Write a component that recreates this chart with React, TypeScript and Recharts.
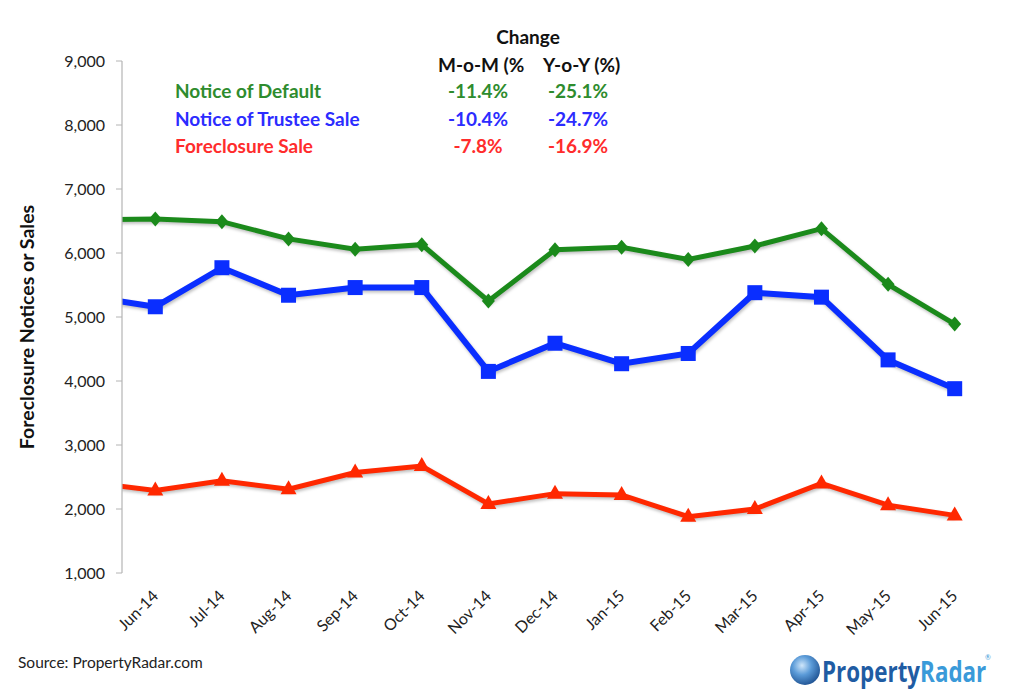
import React from "react";
import { LineChart, Line, XAxis, YAxis } from "recharts";

const months = ["May-14", "Jun-14", "Jul-14", "Aug-14", "Sep-14", "Oct-14", "Nov-14", "Dec-14", "Jan-15", "Feb-15", "Mar-15", "Apr-15", "May-15", "Jun-15"];
const noticeOfDefault = [6520, 6530, 6490, 6220, 6060, 6130, 5250, 6050, 6090, 5900, 6110, 6380, 5510, 4890];
const noticeOfTrusteeSale = [5320, 5160, 5770, 5340, 5460, 5460, 4150, 4590, 4270, 4430, 5380, 5310, 4330, 3880];
const foreclosureSale = [2420, 2290, 2440, 2310, 2570, 2670, 2080, 2240, 2220, 1880, 2000, 2400, 2060, 1900];
const yTicks = [1000, 2000, 3000, 4000, 5000, 6000, 7000, 8000, 9000];
const labelTicks = [1, 2, 3, 4, 5, 6, 7, 8, 9, 10, 11, 12, 13];
const markTicks = [0.5, 1.5, 2.5, 3.5, 4.5, 5.5, 6.5, 7.5, 8.5, 9.5, 10.5, 11.5, 12.5, 13.5];

const seriesNames = ["Notice of Default", "Notice of Trustee Sale", "Foreclosure Sale"];
const momChange = ["-11.4%", "-10.4%", "-7.8%"];
const yoyChange = ["-25.1%", "-24.7%", "-16.9%"];

const GREEN = "#1b8a1b";
const BLUE = "#0a2eff";
const RED = "#ff2800";
const textColors = ["#2e8c2e", "#2c2cff", "#ff2c2c"];

const data = months.map((m, i) => ({
  idx: i,
  month: m,
  nod: noticeOfDefault[i],
  nts: noticeOfTrusteeSale[i],
  fs: foreclosureSale[i],
}));

const FONT = "Lato, 'Open Sans', sans-serif";

const Diamond = (props: any) => {
  const { cx, cy, index } = props;
  if (index === 0 || cx == null) return <g key={`d${index}`} />;
  return <path key={`d${index}`} d={`M${cx},${cy - 7.5} L${cx + 6.5},${cy} L${cx},${cy + 7.5} L${cx - 6.5},${cy} Z`} fill={GREEN} />;
};
const Square = (props: any) => {
  const { cx, cy, index } = props;
  if (index === 0 || cx == null) return <g key={`s${index}`} />;
  return <rect key={`s${index}`} x={cx - 7.5} y={cy - 7.5} width={15} height={15} fill={BLUE} />;
};
const Triangle = (props: any) => {
  const { cx, cy, index } = props;
  if (index === 0 || cx == null) return <g key={`t${index}`} />;
  return <path key={`t${index}`} d={`M${cx},${cy - 9} L${cx + 8},${cy + 5} L${cx - 8},${cy + 5} Z`} fill={RED} />;
};

const XLabel = (props: any) => {
  const { x, y, payload } = props;
  const label = months[payload.value] ?? "";
  const tx = x + 4;
  const ty = y + 24;
  return (
    <text x={tx} y={ty} textAnchor="end" fontSize={16} fill="#222" fontFamily={FONT} transform={`rotate(-45, ${tx}, ${ty})`}>
      {label}
    </text>
  );
};

export default function App() {
  return (
    <div style={{ position: "absolute", left: 0, top: 0, width: 1024, height: 696, background: "#fff", fontFamily: FONT }}>
      <style>{`.recharts-line-curve { filter: drop-shadow(1px 2px 1.5px rgba(0,0,0,0.25)); }`}</style>
      <LineChart width={1024} height={696} data={data} margin={{ top: 61, right: 36, left: 0, bottom: 0 }}>
        <XAxis
          xAxisId="marks"
          dataKey="idx"
          type="number"
          domain={[0.5, 13.5]}
          allowDataOverflow
          ticks={markTicks}
          tick={false}
          height={0}
          axisLine={{ stroke: "#b4b4b4", strokeWidth: 1.2 }}
          tickLine={{ stroke: "#b4b4b4" }}
          tickSize={6}
        />
        <XAxis
          xAxisId="main"
          dataKey="idx"
          type="number"
          domain={[0.5, 13.5]}
          allowDataOverflow
          ticks={labelTicks}
          interval={0}
          tick={<XLabel />}
          height={123}
          axisLine={false}
          tickLine={false}
          tickSize={0}
          tickMargin={0}
        />
        <YAxis
          type="number"
          domain={[1000, 9000]}
          ticks={yTicks}
          interval={0}
          width={122}
          axisLine={{ stroke: "#b4b4b4", strokeWidth: 1.2 }}
          tickLine={{ stroke: "#b4b4b4" }}
          tickSize={6}
          tickMargin={11}
          tick={{ fontSize: 16, fill: "#222", fontFamily: FONT }}
          tickFormatter={(v: number) => v.toLocaleString("en-US")}
        />
        <Line xAxisId="main" type="linear" dataKey="fs" stroke={RED} strokeWidth={5} dot={<Triangle />} activeDot={false} isAnimationActive={false} />
        <Line xAxisId="main" type="linear" dataKey="nts" stroke={BLUE} strokeWidth={6} dot={<Square />} activeDot={false} isAnimationActive={false} />
        <Line xAxisId="main" type="linear" dataKey="nod" stroke={GREEN} strokeWidth={5} dot={<Diamond />} activeDot={false} isAnimationActive={false} />
      </LineChart>
      <svg width={1024} height={696} style={{ position: "absolute", left: 0, top: 0, pointerEvents: "none" }}>
        <text x={26} y={327} textAnchor="middle" fontSize={19.5} fontWeight="bold" fill="#111" fontFamily={FONT} transform="rotate(-90, 26, 327)" dominantBaseline="central">
          Foreclosure Notices or Sales
        </text>
        <text x={528} y={44} textAnchor="middle" fontSize={19} fontWeight="bold" fill="#111" fontFamily={FONT}>Change</text>
        <text x={438} y={72} fontSize={19} fontWeight="bold" fill="#111" fontFamily={FONT}>M-o-M (%</text>
        <text x={543} y={72} fontSize={19} fontWeight="bold" fill="#111" fontFamily={FONT}>Y-o-Y (%)</text>
        {seriesNames.map((n, i) => (
          <g key={n}>
            <text x={175} y={98 + i * 27.5} fontSize={19} fontWeight="bold" fill={textColors[i]} fontFamily={FONT}>{n}</text>
            <text x={478} y={98 + i * 27.5} textAnchor="middle" fontSize={19} fontWeight="bold" fill={textColors[i]} fontFamily={FONT}>{momChange[i]}</text>
            <text x={578} y={98 + i * 27.5} textAnchor="middle" fontSize={19} fontWeight="bold" fill={textColors[i]} fontFamily={FONT}>{yoyChange[i]}</text>
          </g>
        ))}
        <text x={18} y={668} fontSize={15.5} fill="#222" fontFamily={FONT}>Source: PropertyRadar.com</text>
        <defs>
          <radialGradient id="globe" cx="40%" cy="35%" r="70%">
            <stop offset="0%" stopColor="#cfe6fa" />
            <stop offset="45%" stopColor="#5b9bd8" />
            <stop offset="100%" stopColor="#1c4f8f" />
          </radialGradient>
        </defs>
        <circle cx={805} cy={670} r={15} fill="url(#globe)" />
        <g transform="translate(822,682) scale(0.8,1)">
          <text x={0} y={0} fontSize={28} fontWeight="bold" fontFamily="'Open Sans', sans-serif">
            <tspan fill="#1f5ca3">Property</tspan>
            <tspan fill="#3a9ad9">Radar</tspan>
          </text>
        </g>
        <text x={985} y={660} fontSize={7} fill="#3a9ad9" fontFamily={FONT}>®</text>
      </svg>
    </div>
  );
}
